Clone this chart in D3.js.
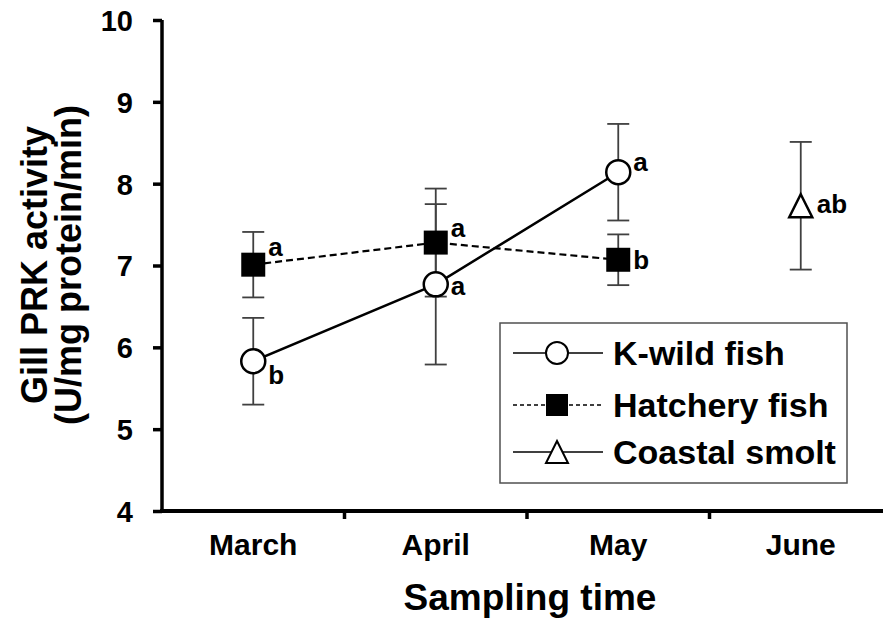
<!DOCTYPE html>
<html>
<head>
<meta charset="utf-8">
<script src="https://cdn.jsdelivr.net/npm/d3@7"></script>
<style>
    body { margin: 0; background: #fff; }
    text { font-family: "Liberation Sans", Arial, sans-serif; font-weight: bold; }
</style>
</head>
<body>
<div id="chart"></div>
<script>
// values
const months = ["March", "April", "May", "June"]
const yTicks = [4, 5, 6, 7, 8, 9, 10]

const wildMonths = ["March", "April", "May"]
const wildMean = [5.83, 6.77, 8.14]
const wildErr = [0.53, 0.98, 0.59]
const wildLetters = ["b", "a", "a"]

const hatchMonths = ["March", "April", "May"]
const hatchMean = [7.01, 7.28, 7.07]
const hatchErr = [0.40, 0.66, 0.31]
const hatchLetters = ["a", "a", "b"]

const coastMonths = ["June"]
const coastMean = [7.73]
const coastErr = [0.78]
const coastLetters = ["ab"]

const legendNames = ["K-wild fish", "Hatchery fish", "Coastal smolt"]

document.addEventListener("DOMContentLoaded", () => {
    var width = 883,
        height = 624

    var svg = d3.select('#chart')
        .append('svg')
        .attr("width", width)
        .attr("height", height)

    var x = d3.scaleBand().domain(months).range([162, 892])
    var y = d3.scaleLinear().domain([4, 10]).range([511, 20])
    var cx = m => x(m) + x.bandwidth() / 2

    // series -> rows
    const rows = (ms, mean, err, letters) => ms.map((m, i) => ({m: m, v: mean[i], e: err[i], l: letters[i]}))
    const wild = rows(wildMonths, wildMean, wildErr, wildLetters)
    const hatch = rows(hatchMonths, hatchMean, hatchErr, hatchLetters)
    const coast = rows(coastMonths, coastMean, coastErr, coastLetters)

    // y axis
    let yAxis = svg.append("g")
        .attr("transform", "translate(162,0)")
        .call(d3.axisLeft(y).tickValues(yTicks).tickFormat(d3.format("d")).tickSize(9).tickPadding(20))
    yAxis.select(".domain").attr("stroke-width", 3.5).attr("d", "M0," + y(10) + "V" + y(4))
    yAxis.selectAll(".tick line").attr("stroke-width", 3.5)
    yAxis.selectAll(".tick text").attr("font-size", 29).attr("fill", "#000").attr("dy", "0.36em")

    // x axis
    svg.append("line")
        .attr("x1", 160).attr("x2", width)
        .attr("y1", y(4)).attr("y2", y(4))
        .attr("stroke", "#000").attr("stroke-width", 4)
    svg.selectAll(".xtick")
        .data(months)
        .enter().append("line")
        .attr("x1", d => x(d) + x.bandwidth()).attr("x2", d => x(d) + x.bandwidth())
        .attr("y1", y(4)).attr("y2", y(4) + 8)
        .attr("stroke", "#000").attr("stroke-width", 3.5)
    svg.selectAll(".xlab")
        .data(months)
        .enter().append("text")
        .attr("x", d => cx(d))
        .attr("y", 555)
        .attr("text-anchor", "middle")
        .attr("font-size", 30)
        .text(d => d)

    svg.append("text")
        .attr("x", 530).attr("y", 610)
        .attr("text-anchor", "middle")
        .attr("font-size", 37)
        .text("Sampling time")

    let ylab = svg.append("text")
        .attr("transform", "translate(0,265) rotate(-90)")
        .attr("text-anchor", "middle")
        .attr("font-size", 36)
    ylab.append("tspan").attr("x", 0).attr("y", 47).text("Gill PRK activity")
    ylab.append("tspan").attr("x", 0).attr("y", 81).text("(U/mg protein/min)")

    // error bars
    const errorBars = (data) => {
        let g = svg.append("g").attr("stroke", "#404040").attr("stroke-width", 1.8)
        data.forEach(d => {
            g.append("line").attr("x1", cx(d.m)).attr("x2", cx(d.m)).attr("y1", y(d.v - d.e)).attr("y2", y(d.v + d.e))
            g.append("line").attr("x1", cx(d.m) - 11).attr("x2", cx(d.m) + 11).attr("y1", y(d.v - d.e)).attr("y2", y(d.v - d.e))
            g.append("line").attr("x1", cx(d.m) - 11).attr("x2", cx(d.m) + 11).attr("y1", y(d.v + d.e)).attr("y2", y(d.v + d.e))
        })
    }
    errorBars(wild)
    errorBars(hatch)
    errorBars(coast)

    let line = d3.line().x(d => cx(d.m)).y(d => y(d.v))
    svg.append("path").datum(hatch).attr("d", line)
        .attr("fill", "none").attr("stroke", "#000").attr("stroke-width", 2.2).attr("stroke-dasharray", "7,4")
    svg.append("path").datum(wild).attr("d", line)
        .attr("fill", "none").attr("stroke", "#000").attr("stroke-width", 2.5)

    // markers
    const circleAt = (g, px, py, r) => g.append("circle").attr("cx", px).attr("cy", py).attr("r", r)
        .attr("fill", "#fff").attr("stroke", "#000").attr("stroke-width", 2.5)
    const squareAt = (g, px, py, s) => g.append("rect").attr("x", px - s / 2).attr("y", py - s / 2)
        .attr("width", s).attr("height", s).attr("fill", "#000")
    const triangleAt = (g, px, py, s) => g.append("path")
        .attr("d", "M" + px + "," + (py - s / 2) + "L" + (px + s / 2) + "," + (py + s / 2) + "L" + (px - s / 2) + "," + (py + s / 2) + "Z")
        .attr("fill", "#fff").attr("stroke", "#000").attr("stroke-width", 2.5).attr("stroke-linejoin", "miter")

    let marks = svg.append("g")
    hatch.forEach(d => squareAt(marks, cx(d.m), y(d.v), 24))
    wild.forEach(d => circleAt(marks, cx(d.m), y(d.v), 12))
    coast.forEach(d => triangleAt(marks, cx(d.m), y(d.v), 23))

    // significance letters (dy: offset of baseline from the marker centre)
    const letterDy = {wild: [23, 11, -1], hatch: [-9, -6, 9], coast: [7]}
    const letters = (data, dys, dx) => {
        data.forEach((d, i) => {
            svg.append("text")
                .attr("x", cx(d.m) + dx)
                .attr("y", y(d.v) + dys[i])
                .attr("font-size", 26)
                .text(d.l)
        })
    }
    letters(wild, letterDy.wild, 15)
    letters(hatch, letterDy.hatch, 15)
    letters(coast, letterDy.coast, 16)

    // legend
    let legend = svg.append("g")
    legend.append("rect")
        .attr("x", 500).attr("y", 323).attr("width", 347).attr("height", 160)
        .attr("fill", "#fff").attr("stroke", "#505050").attr("stroke-width", 1.5)
    const rowY = [353, 405, 452]
    legendNames.forEach((name, i) => {
        legend.append("line")
            .attr("x1", 513).attr("x2", 603).attr("y1", rowY[i]).attr("y2", rowY[i])
            .attr("stroke", "#000").attr("stroke-width", 1.6)
            .attr("stroke-dasharray", i == 1 ? "4,3" : null)
        if (i == 0) circleAt(legend, 557, rowY[i], 11).attr("stroke-width", 2)
        if (i == 1) squareAt(legend, 557, rowY[i], 22)
        if (i == 2) triangleAt(legend, 557, rowY[i], 22).attr("stroke-width", 2)
        legend.append("text")
            .attr("x", 613).attr("y", rowY[i] + 12)
            .attr("font-size", 34)
            .text(name)
    })
})
</script>
</body>
</html>
